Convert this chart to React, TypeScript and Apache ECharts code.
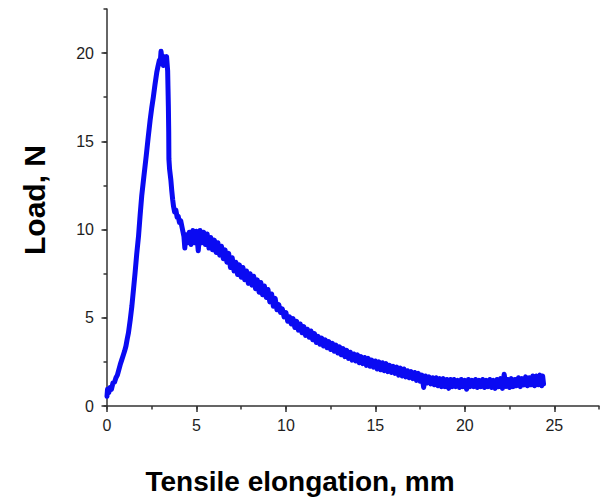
import React, { useEffect, useRef } from "react";
import * as echarts from "echarts";

// Tick labels
const xTickValues = [0, 5, 10, 15, 20, 25];
const yTickValues = [0, 5, 10, 15, 20];

const xTitle = "Tensile elongation, mm";
const yTitle = "Load, N";

// Curve: [elongation mm, load N]
const rise: [number, number][] = [
  [0, 0.55], [0.03, 0.95], [0.1, 0.75], [0.17, 1.05], [0.25, 0.95], [0.33, 1.3],
  [0.42, 1.35], [0.5, 1.6], [0.58, 1.75], [0.66, 2.05], [0.74, 2.35], [0.82, 2.6],
  [0.9, 2.85], [0.98, 3.1], [1.06, 3.4], [1.13, 3.8], [1.2, 4.15], [1.3, 4.9],
  [1.39, 5.66], [1.48, 6.6], [1.57, 7.55], [1.66, 8.6], [1.76, 9.6], [1.85, 10.8],
  [1.94, 11.9], [2.06, 13.0], [2.19, 14.15], [2.3, 15.2], [2.41, 16.2], [2.5, 16.9],
  [2.59, 17.5], [2.68, 18.2], [2.78, 18.9], [2.86, 19.3], [2.93, 19.6], [2.97, 19.4],
  [3.02, 20.1], [3.08, 19.6], [3.15, 19.3], [3.2, 19.8], [3.28, 19.6], [3.33, 19.8],
  [3.39, 19.0], [3.41, 18.0], [3.43, 17.0], [3.45, 15.5], [3.46, 14.0], [3.5, 13.4],
  [3.57, 12.8], [3.62, 12.2], [3.67, 11.7], [3.72, 11.3], [3.78, 11.0], [3.85, 11.1],
  [3.92, 10.7], [3.98, 10.75], [4.05, 10.4], [4.12, 10.5],
];

const plateau: [number, number][] = [
  [4.2, 10.1], [4.3, 9.6], [4.35, 8.95], [4.4, 9.7], [4.5, 9.25], [4.6, 9.85],
  [4.7, 9.15], [4.8, 9.95], [4.9, 9.25], [5.0, 9.9], [5.1, 8.8], [5.2, 9.95],
  [5.3, 9.25], [5.4, 9.85], [5.5, 9.15], [5.6, 9.75], [5.7, 8.95], [5.8, 9.55],
  [5.9, 8.85], [6.0, 9.4], [6.1, 8.7], [6.2, 9.25], [6.3, 8.55], [6.4, 9.05],
  [6.5, 8.35], [6.6, 8.85], [6.7, 8.15], [6.8, 8.65], [6.9, 7.85], [7.0, 8.4],
  [7.1, 7.65], [7.2, 8.15], [7.3, 7.45], [7.4, 8.0], [7.5, 7.3], [7.6, 7.85],
  [7.7, 7.15], [7.8, 7.65], [7.9, 6.95], [8.0, 7.5], [8.1, 6.85], [8.2, 7.35],
  [8.3, 6.65], [8.4, 7.15], [8.5, 6.45], [8.6, 7.0], [8.7, 6.3], [8.8, 6.8],
  [8.9, 6.15], [9.0, 6.6], [9.1, 5.9], [9.2, 6.35], [9.3, 5.65], [9.4, 6.1],
  [9.5, 5.45],
];

const tail: [number, number][] = [
  [9.6, 5.75], [9.7, 5.3], [9.8, 5.5], [9.9, 5.05], [10.0, 5.3], [10.1, 4.8],
  [10.2, 5.05], [10.3, 4.65], [10.4, 4.95], [10.5, 4.45], [10.6, 4.8], [10.7, 4.3],
  [10.8, 4.65], [10.9, 4.15], [11.0, 4.5], [11.1, 4.0], [11.2, 4.35], [11.3, 3.9],
  [11.4, 4.25], [11.5, 3.75], [11.6, 4.1], [11.7, 3.6], [11.8, 3.95], [11.9, 3.5],
  [12.0, 3.85], [12.1, 3.4], [12.2, 3.75], [12.3, 3.3], [12.4, 3.65], [12.5, 3.2],
  [12.6, 3.55], [12.7, 3.1], [12.8, 3.45], [12.9, 3.0], [13.0, 3.35], [13.1, 2.9],
  [13.2, 3.25], [13.3, 2.8], [13.4, 3.15], [13.5, 2.7], [13.6, 3.05], [13.7, 2.6],
  [13.8, 2.95], [13.9, 2.55], [14.0, 2.9], [14.1, 2.45], [14.2, 2.8], [14.3, 2.4],
  [14.4, 2.75], [14.5, 2.3], [14.6, 2.7], [14.7, 2.25], [14.8, 2.6], [14.9, 2.2],
  [15.0, 2.55], [15.1, 2.1], [15.2, 2.5], [15.3, 2.05], [15.4, 2.45], [15.5, 2.0],
  [15.6, 2.4], [15.7, 1.95], [15.8, 2.3], [15.9, 1.9], [16.0, 2.25], [16.1, 1.85],
  [16.2, 2.2], [16.3, 1.75], [16.4, 2.15], [16.5, 1.7], [16.6, 2.1], [16.7, 1.65],
  [16.8, 2.0], [16.9, 1.6], [17.0, 1.95], [17.1, 1.55], [17.2, 1.9], [17.3, 1.45],
  [17.4, 1.85], [17.5, 1.4], [17.6, 1.75], [17.7, 1.05], [17.8, 1.7], [17.9, 1.3],
  [18.0, 1.65], [18.1, 1.25], [18.2, 1.6], [18.3, 1.2], [18.4, 1.6], [18.5, 1.15],
  [18.6, 1.55], [18.7, 1.1], [18.8, 1.55], [18.9, 1.1], [19.0, 1.5], [19.1, 1.0],
  [19.2, 1.5], [19.3, 1.1], [19.4, 1.5], [19.5, 1.1], [19.6, 1.45], [19.7, 1.05],
  [19.8, 1.5], [19.9, 1.1], [20.0, 1.45], [20.1, 0.95], [20.2, 1.5], [20.3, 1.1],
  [20.4, 1.45], [20.5, 1.1], [20.6, 1.5], [20.7, 1.05], [20.8, 1.45], [20.9, 1.1],
  [21.0, 1.5], [21.1, 1.05], [21.2, 1.45], [21.3, 1.1], [21.4, 1.5], [21.5, 1.05],
  [21.6, 1.45], [21.7, 1.0], [21.8, 1.5], [21.9, 1.1], [22.0, 1.55], [22.1, 1.0],
  [22.2, 1.8], [22.3, 1.1], [22.4, 1.5], [22.5, 1.05], [22.6, 1.55], [22.7, 1.1],
  [22.8, 1.5], [22.9, 1.15], [23.0, 1.6], [23.1, 1.1], [23.2, 1.55], [23.3, 1.2],
  [23.4, 1.65], [23.5, 1.15], [23.6, 1.6], [23.7, 1.2], [23.8, 1.7], [23.9, 1.15],
  [24.0, 1.7], [24.1, 1.2], [24.2, 1.75], [24.3, 1.15], [24.35, 1.7], [24.4, 1.25],
];

const AXIS_COLOR = "#333333";
const LABEL_COLOR = "#1e1e1e";
const FONT = "'Liberation Sans', Arial, sans-serif";

export default function App() {
  const ref = useRef<HTMLDivElement>(null);

  useEffect(() => {
    if (!ref.current) return;
    const chart = echarts.init(ref.current, null, { renderer: "svg" });

    const xMinorMax = 27.5;
    const yMinorMax = 22.5;
    const xMajorMax = xTickValues[xTickValues.length - 1];
    const yMajorMax = yTickValues[yTickValues.length - 1];

    const W = 604, H = 500;
    const left = 107, right = 5, top = 9, bottom = 94;
    const pw = W - left - right;
    const ph = H - top - bottom;
    const right2 = right + (pw * (xMinorMax - xMajorMax)) / xMinorMax;
    const top2 = top + (ph * (yMinorMax - yMajorMax)) / yMinorMax;

    const lineStyle = { color: AXIS_COLOR, width: 1.5 };

    chart.setOption({
      animation: false,
      backgroundColor: "#ffffff",
      grid: [
        { left, right, top, bottom },
        { left, right: right2, top: top2, bottom },
      ],
      xAxis: [
        {
          gridIndex: 0, type: "value", min: 0, max: xMinorMax, interval: 2.5,
          axisLine: { show: true, onZero: false, lineStyle },
          axisTick: { show: true, length: 3.5, lineStyle },
          axisLabel: { show: false },
          splitLine: { show: false },
        },
        {
          gridIndex: 1, type: "value", min: 0, max: xMajorMax, interval: 5,
          axisLine: { show: false, onZero: false },
          axisTick: { show: true, length: 6, lineStyle },
          axisLabel: { show: true, fontSize: 16, color: LABEL_COLOR, margin: 11, fontFamily: FONT },
          splitLine: { show: false },
        },
      ],
      yAxis: [
        {
          gridIndex: 0, type: "value", min: 0, max: yMinorMax, interval: 2.5,
          axisLine: { show: true, onZero: false, lineStyle },
          axisTick: { show: true, length: 3.5, lineStyle },
          axisLabel: { show: false },
          splitLine: { show: false },
        },
        {
          gridIndex: 1, type: "value", min: 0, max: yMajorMax, interval: 5,
          axisLine: { show: false, onZero: false },
          axisTick: { show: true, length: 5.5, lineStyle },
          axisLabel: { show: true, fontSize: 16, color: LABEL_COLOR, margin: 13, fontFamily: FONT },
          splitLine: { show: false },
        },
      ],
      series: [
        {
          type: "line",
          xAxisIndex: 0,
          yAxisIndex: 0,
          data: [...rise, ...plateau, ...tail],
          showSymbol: false,
          symbol: "none",
          lineStyle: { color: "#0a0af2", width: 5, join: "round", cap: "round" },
          clip: false,
        },
      ],
      graphic: [
        {
          type: "text",
          x: 300,
          y: 481,
          style: {
            text: xTitle,
            font: `bold 28px ${FONT}`,
            fill: "#000000",
            align: "center",
            verticalAlign: "middle",
          },
        },
        {
          type: "text",
          x: 34,
          y: 200,
          rotation: Math.PI / 2,
          style: {
            text: yTitle,
            font: `bold 30px ${FONT}`,
            fill: "#000000",
            align: "center",
            verticalAlign: "middle",
          },
        },
      ],
    });

    return () => chart.dispose();
  }, []);

  return (
    <div
      ref={ref}
      style={{ position: "fixed", left: 0, top: 0, width: 604, height: 500, background: "#fff" }}
    />
  );
}
